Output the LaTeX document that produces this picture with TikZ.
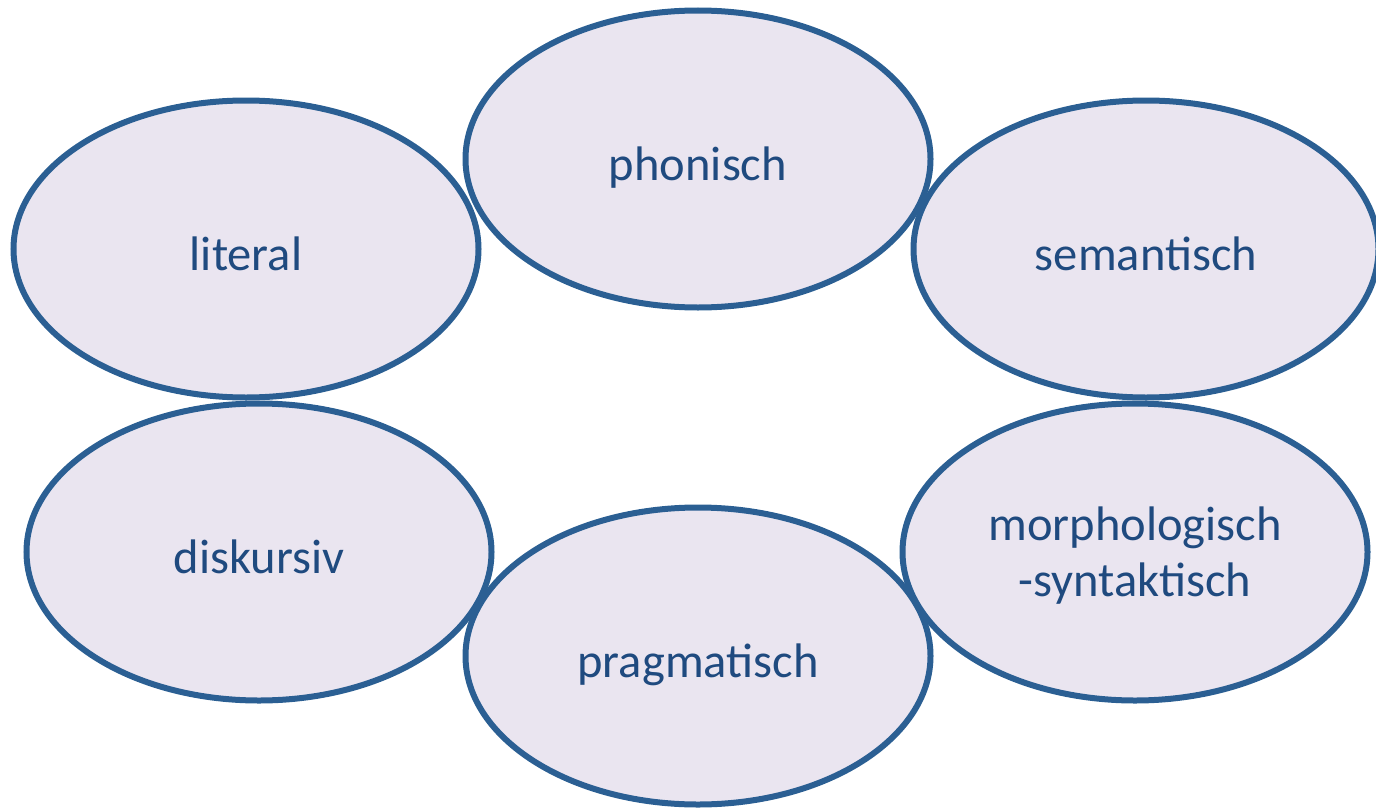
\documentclass[tikz,border=0pt]{standalone}
\usepackage{fontspec}
\setmainfont{Carlito}
\usetikzlibrary{shapes.geometric}
\definecolor{edge}{HTML}{2B5F93}
\definecolor{fillc}{HTML}{EAE5F0}
\definecolor{txt}{HTML}{1F4A7F}
\tikzset{
  bubble/.style={ellipse, draw=edge, fill=fillc, line width=6pt, inner sep=0pt,
    minimum width=465pt, minimum height=297pt, text=txt,
    font=\fontsize{48.5}{56}\selectfont},
  oneline/.style={bubble, text height=43pt, text depth=0pt},
  twoline/.style={bubble, text height=68pt, text depth=44pt}
}
\begin{document}
\begin{tikzpicture}[x=1pt,y=-1pt]
\useasboundingbox (0,0) rectangle (1376,808);
\node[oneline] (phon) at (698,159) {phonisch};
\node[oneline] (lit) at (246,249) {literal};
\node[oneline] (sem) at (1146,249) {semantisch};
\node[oneline] (disk) at (259,552) {diskursiv};
\node[twoline] (morph) at (1135,552) {\begin{tabular}{@{}c@{}}morphologisch\\-syntaktisch\end{tabular}};
\node[oneline] (prag) at (698,656) {pragmatisch};
\end{tikzpicture}
\end{document}
